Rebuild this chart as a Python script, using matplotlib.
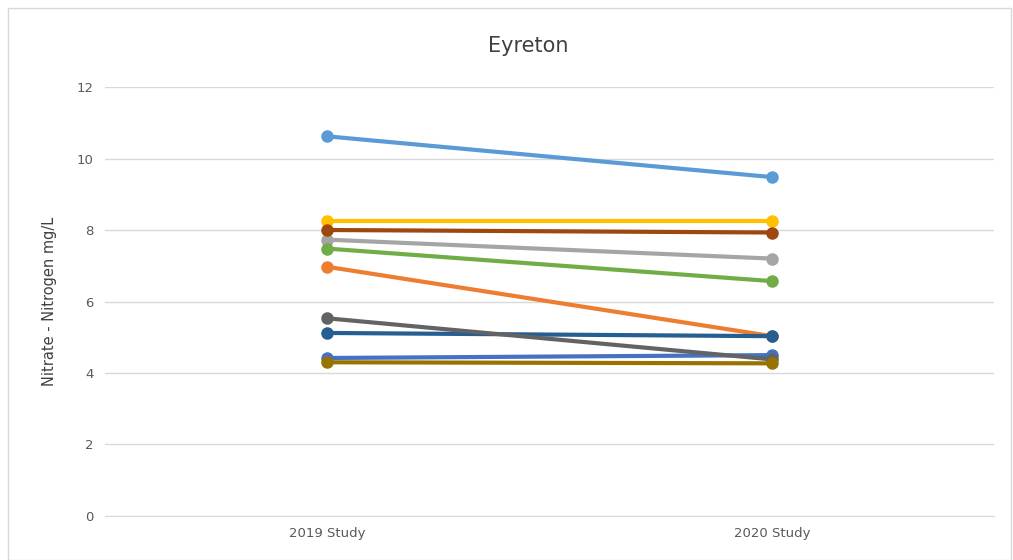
import matplotlib.pyplot as plt
from matplotlib.patches import Rectangle

categories = ['2019 Study', '2020 Study']
series_values = [
    [10.62, 9.48],
    [6.97, 5.03],
    [7.73, 7.20],
    [8.25, 8.25],
    [4.42, 4.50],
    [7.48, 6.57],
    [5.12, 5.03],
    [8.00, 7.93],
    [5.53, 4.38],
    [4.30, 4.27],
]
colors = ['#5B9BD5', '#ED7D31', '#A5A5A5', '#FFC000', '#4472C4',
          '#70AD47', '#255E91', '#9E480E', '#636363', '#997300']
yticks = [0, 2, 4, 6, 8, 10, 12]

fig = plt.figure(figsize=(10.13, 5.6), dpi=100)
ax = fig.add_axes([0.1037, 0.0786, 0.878, 0.766])

x = list(range(len(categories)))
for vals, c in zip(series_values, colors):
    ax.plot(x, vals, color=c, linewidth=3, marker='o', markersize=8, zorder=3)

ax.set_xlim(-0.5, 1.5)
ax.set_ylim(0, 12)
ax.set_yticks(yticks)
ax.set_xticks(x)
ax.set_xticklabels(categories)
ax.grid(axis='y', color='#D9D9D9', linewidth=1)
ax.set_axisbelow(True)
for s in ['top', 'right', 'left']:
    ax.spines[s].set_visible(False)
ax.spines['bottom'].set_color('#D9D9D9')
ax.tick_params(length=0, colors='#595959', labelsize=9.5, pad=8)
ax.set_ylabel('Nitrate - Nitrogen mg/L', fontsize=10.5, color='#404040', labelpad=14)
fig.text(0.5215, 0.917, 'Eyreton', ha='center', va='center', fontsize=15, color='#404040')

fig.patches.append(Rectangle((0.008, 0.0), 0.99, 0.985, transform=fig.transFigure,
                             fill=False, edgecolor='#D9D9D9', linewidth=1))

fig.savefig('out.png', dpi=100)
